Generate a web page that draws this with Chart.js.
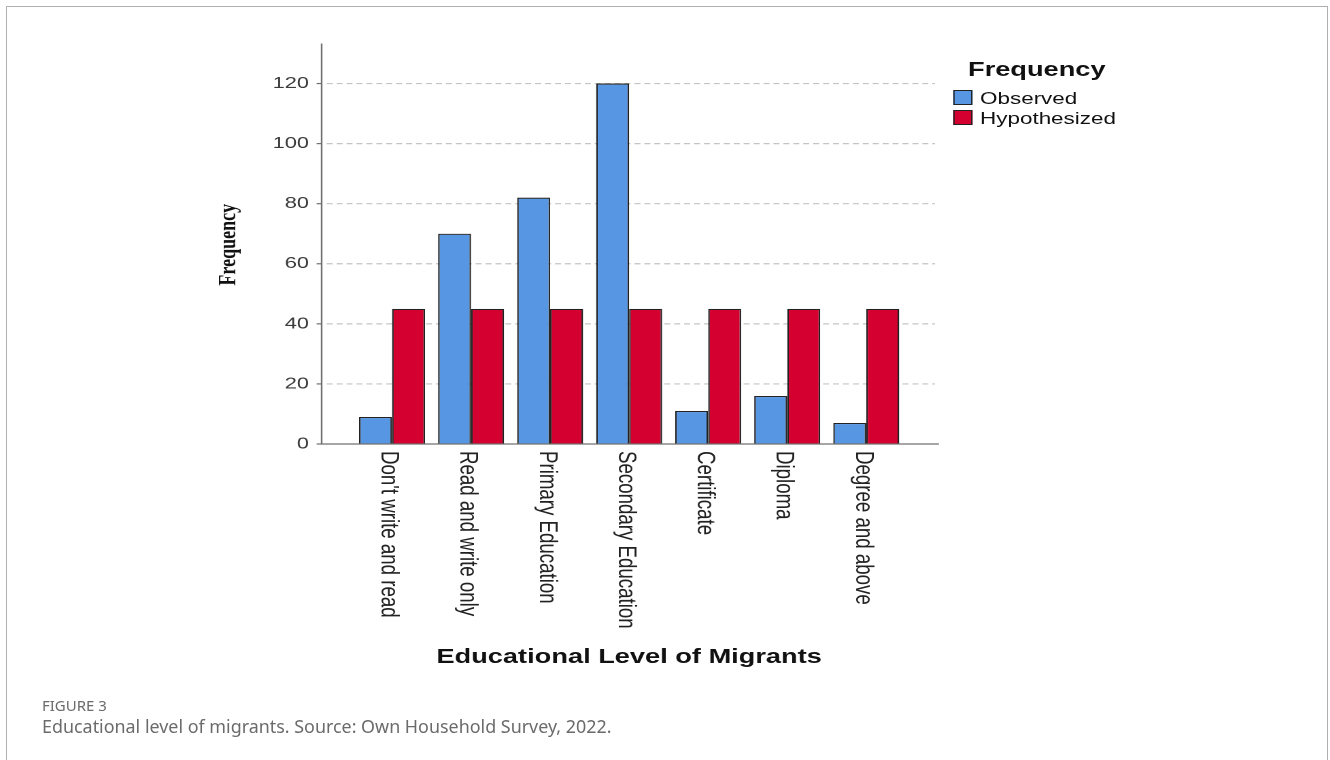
<!DOCTYPE html>
<html>
<head>
<meta charset="utf-8">
<script src="https://cdn.jsdelivr.net/npm/chart.js@4.4.1/dist/chart.umd.min.js"></script>
<style>
  html, body { margin:0; padding:0; background:#fff; width:1330px; height:760px; overflow:hidden; }
  #frame { position:absolute; left:6px; top:6px; width:1322px; height:820px; border:1px solid #b0b0b0; box-sizing:border-box; }
  #fig { position:absolute; left:0; top:0; width:978px; height:700px; transform:scaleX(1.36); transform-origin:0 0; }
  #fig canvas { position:absolute; left:0; top:0; }
  .lg { position:absolute; font-family:"Liberation Sans", Arial, sans-serif; color:#111; white-space:nowrap; }
  .lgbox { position:absolute; box-sizing:border-box; border:1.2px solid #222; }
  #figlabel { position:absolute; left:42px; top:697.5px; font-family:"Noto Sans", sans-serif; font-size:15px; line-height:15px; color:#6b6b6b; }
  #caption { position:absolute; left:42px; top:718.2px; font-family:"Noto Sans", sans-serif; font-size:17.9px; line-height:17.9px; color:#6b6b6b; white-space:nowrap; }
</style>
</head>
<body>
<div id="frame"></div>
<div id="fig">
  <canvas id="c"></canvas>
  <div id="legend"></div>
</div>
<div id="figlabel">FIGURE 3</div>
<div id="caption">Educational level of migrants. Source: Own Household Survey, 2022.</div>
<script>
const categories = ["Don't write and read", "Read and write only", "Primary Education", "Secondary Education", "Certificate", "Diploma", "Degree and above"];
const observed = [9, 70, 82, 120, 11, 16, 7];
const hypothesized = [45, 45, 45, 45, 45, 45, 45];
const seriesNames = ["Observed", "Hypothesized"];
const seriesColors = ["#5796e3", "#d40030"];
const yTicks = [0, 20, 40, 60, 80, 100, 120];
const yTitle = "Frequency";
const xTitle = "Educational Level of Migrants";
const legendTitle = "Frequency";

const spssPlugin = {
  id: 'spss',
  beforeDatasetsDraw(chart) {
    const { ctx, chartArea: ca, scales: { y } } = chart;
    ctx.save();
    ctx.strokeStyle = '#c4c4c4';
    ctx.lineWidth = 1.2;
    ctx.setLineDash([4.4, 2.9]);
    y.ticks.forEach(t => {
      if (t.value === 0) return;
      const py = y.getPixelForValue(t.value);
      ctx.beginPath();
      ctx.moveTo(ca.left - 19, py);
      ctx.lineTo(ca.right + 21.5, py);
      ctx.stroke();
    });
    ctx.restore();
  },
  afterDatasetsDraw(chart) {
    const { ctx, chartArea: ca, scales: { x, y } } = chart;
    const axisX = ca.left - 22.7;
    const top = y.getPixelForValue(y.max);
    const bottom = y.getPixelForValue(0);
    ctx.save();
    ctx.strokeStyle = '#707070';
    ctx.lineWidth = 1.2;
    ctx.beginPath();
    ctx.moveTo(axisX, top);
    ctx.lineTo(axisX, bottom);
    ctx.lineTo(ca.right + 24.4, bottom);
    ctx.stroke();
    y.ticks.forEach(t => {
      const py = y.getPixelForValue(t.value);
      ctx.beginPath();
      ctx.moveTo(axisX - 3.7, py);
      ctx.lineTo(axisX, py);
      ctx.stroke();
    });
    ctx.fillStyle = '#111';
    ctx.font = 'bold 18px "Liberation Serif", "Times New Roman", serif';
    ctx.textAlign = 'center';
    ctx.textBaseline = 'middle';
    ctx.save();
    ctx.translate(ca.left - 90.8, (top + bottom) / 2 + 1);
    ctx.rotate(-Math.PI / 2);
    ctx.fillText(yTitle, 0, 0);
    ctx.restore();
    ctx.fillStyle = '#222';
    ctx.font = '18.7px "Liberation Sans", Arial, sans-serif';
    ctx.textAlign = 'left';
    ctx.textBaseline = 'middle';
    chart.data.labels.forEach((lab, i) => {
      const px = x.getPixelForValue(i) - 2.5;
      ctx.save();
      ctx.translate(px, bottom + 7);
      ctx.rotate(Math.PI / 2);
      ctx.fillText(lab, 0, 0);
      ctx.restore();
    });
    ctx.fillStyle = '#111';
    ctx.font = 'bold 20px "Liberation Sans", Arial, sans-serif';
    ctx.textAlign = 'center';
    ctx.textBaseline = 'alphabetic';
    ctx.fillText(xTitle, (ca.left + ca.right) / 2, 663);
    ctx.restore();
  }
};

const chart = new Chart(document.getElementById('c'), {
  type: 'bar',
  data: {
    labels: categories,
    datasets: [
      { label: seriesNames[0], data: observed, backgroundColor: seriesColors[0], borderColor: '#222', borderWidth: 1.2 },
      { label: seriesNames[1], data: hypothesized, backgroundColor: seriesColors[1], borderColor: '#222', borderWidth: 1.2 }
    ]
  },
  options: {
    responsive: true,
    maintainAspectRatio: false,
    animation: false,
    devicePixelRatio: 2,
    datasets: { bar: { categoryPercentage: 0.835, barPercentage: 1.0 } },
    layout: { padding: { left: 159.2, right: 312, top: 43.5, bottom: 256 } },
    plugins: { legend: { display: false }, tooltip: { enabled: false }, title: { display: false } },
    scales: {
      x: { display: false, offset: true, grid: { display: false } },
      y: {
        min: 0, max: 133.33,
        afterFit(scale) { scale.width = 100; },
        afterBuildTicks(scale) { scale.ticks = yTicks.map(v => ({ value: v })); },
        grid: { display: false, drawTicks: false },
        border: { display: false },
        ticks: {
          padding: 32,
          color: '#3a3a3a',
          font: { family: '"Liberation Sans", Arial, sans-serif', size: 16 },
          callback: v => String(v)
        }
      }
    }
  },
  plugins: [spssPlugin]
});

const lg = document.getElementById('legend');
const t = document.createElement('div');
t.className = 'lg';
t.textContent = legendTitle;
Object.assign(t.style, { left: '711.8px', top: '59.4px', fontSize: '20px', lineHeight: '20px', fontWeight: 'bold' });
lg.appendChild(t);
seriesNames.forEach((name, i) => {
  const top = 90 + i * 20;
  const b = document.createElement('div');
  b.className = 'lgbox';
  Object.assign(b.style, { left: '700.7px', top: top + 'px', width: '14.7px', height: '15px', background: seriesColors[i] });
  lg.appendChild(b);
  const s = document.createElement('div');
  s.className = 'lg';
  s.textContent = name;
  Object.assign(s.style, { left: '720.6px', top: top + 'px', fontSize: '16.5px', lineHeight: '16.5px' });
  lg.appendChild(s);
});
</script>
</body>
</html>
